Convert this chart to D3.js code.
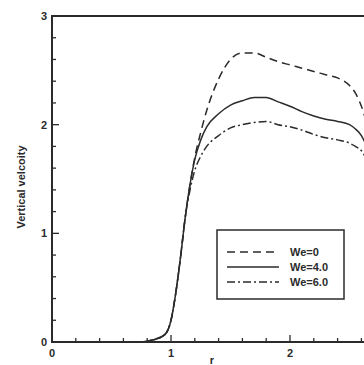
<!DOCTYPE html>
<html>
<head>
<meta charset="utf-8">
<script src="https://cdn.jsdelivr.net/npm/d3@7"></script>
<style>
  html, body { margin: 0; padding: 0; background: #fff; overflow: hidden; }
  svg { display: block; font-family: Arial, "Liberation Sans", sans-serif; }
  .axis-line { stroke: #2b2b2b; stroke-width: 2; fill: none; }
  .tick { stroke: #2b2b2b; stroke-width: 1.3; }
  .tick-label { font-size: 11px; font-weight: bold; fill: #2b2b2b; }
  .curve { fill: none; stroke: #2b2b2b; stroke-width: 1.5; }
</style>
</head>
<body>
<div id="chart"></div>
<script>
// ========== Data ==========
const radius = [0, 0.75, 0.85, 0.95, 1.0, 1.04, 1.08, 1.12, 1.16, 1.2, 1.25, 1.3, 1.4, 1.5,
  1.6, 1.7, 1.8, 1.9, 2.0, 2.1, 2.2, 2.3, 2.4, 2.5, 2.55, 2.6, 2.65, 2.7];

const we0 = [0, 0, 0.02, 0.07, 0.2, 0.45, 0.78, 1.15, 1.45, 1.7, 1.93, 2.13, 2.42, 2.6,
  2.66, 2.66, 2.62, 2.58, 2.55, 2.52, 2.49, 2.46, 2.43, 2.36, 2.29, 2.17, 2.0, 1.85];

const we4 = [0, 0, 0.02, 0.07, 0.2, 0.45, 0.78, 1.15, 1.45, 1.68, 1.86, 1.98, 2.1, 2.18,
  2.22, 2.25, 2.25, 2.21, 2.17, 2.12, 2.08, 2.05, 2.03, 2.0, 1.96, 1.9, 1.78, 1.6];

const we6 = [0, 0, 0.02, 0.07, 0.2, 0.45, 0.78, 1.15, 1.4, 1.58, 1.71, 1.8, 1.9, 1.97,
  2.0, 2.02, 2.03, 2.0, 1.98, 1.95, 1.91, 1.88, 1.86, 1.83, 1.8, 1.76, 1.66, 1.5];

const seriesNames = ['We=0', 'We=4.0', 'We=6.0'];
const xTickLabels = [0, 1, 2];
const yTickLabels = [0, 1, 2, 3];


// ========== Config ==========
const config = {
  width: 364,
  height: 365,
  plot: { left: 52, top: 16, bottom: 342, unitX: 119 },
  dashes: ['8,5', null, '8,3,2,3'],
  legend: { x: 217, y: 230, w: 127, h: 69 }
};

const svg = d3.select('#chart')
  .append('svg')
  .attr('width', config.width)
  .attr('height', config.height);


// ========== Scales ==========
const x = d3.scaleLinear()
  .domain([0, 3])
  .range([config.plot.left, config.plot.left + 3 * config.plot.unitX]);

const y = d3.scaleLinear()
  .domain([0, 3])
  .range([config.plot.bottom, config.plot.top]);


// ========== Frame ==========
svg.append('rect')
  .attr('class', 'axis-line')
  .attr('x', x(0))
  .attr('y', y(3))
  .attr('width', x(3) - x(0))
  .attr('height', y(0) - y(3));

// Minor / major ticks, pointing inward
const xTicks = d3.range(0, 15).map(i => i * 0.2);
svg.append('g').selectAll('line')
  .data(xTicks)
  .join('line')
    .attr('class', 'tick')
    .attr('x1', d => x(d))
    .attr('x2', d => x(d))
    .attr('y1', y(0))
    .attr('y2', (d, i) => y(0) - (i % 5 === 0 ? 7 : 4));

const yTicks = d3.range(0, 15).map(i => i * 0.2);
svg.append('g').selectAll('line')
  .data(yTicks)
  .join('line')
    .attr('class', 'tick')
    .attr('x1', x(0))
    .attr('x2', (d, i) => x(0) + (i % 5 === 0 ? 7 : 4))
    .attr('y1', d => y(d))
    .attr('y2', d => y(d));

// Tick labels
svg.append('g').selectAll('text')
  .data(xTickLabels)
  .join('text')
    .attr('class', 'tick-label')
    .attr('x', d => x(d))
    .attr('y', y(0) + 15)
    .attr('text-anchor', 'middle')
    .text(d => d);

svg.append('g').selectAll('text')
  .data(yTickLabels)
  .join('text')
    .attr('class', 'tick-label')
    .attr('x', x(0) - 5)
    .attr('y', d => y(d) + 4)
    .attr('text-anchor', 'end')
    .text(d => d);

// Axis titles
svg.append('text')
  .attr('class', 'tick-label')
  .attr('transform', `translate(25, ${(y(0) + y(3)) / 2 + 8}) rotate(-90)`)
  .attr('text-anchor', 'middle')
  .text('Vertical velcoity');

svg.append('text')
  .attr('class', 'tick-label')
  .attr('x', 212)
  .attr('y', 364)
  .attr('text-anchor', 'middle')
  .text('r');


// ========== Curves ==========
const line = d3.line()
  .x(d => x(d[0]))
  .y(d => y(d[1]))
  .curve(d3.curveMonotoneX);

[we0, we4, we6].forEach((values, i) => {
  svg.append('path')
    .attr('class', 'curve')
    .attr('stroke-dasharray', config.dashes[i])
    .attr('d', line(radius.map((r, j) => [r, values[j]])));
});


// ========== Legend ==========
const legend = svg.append('g')
  .attr('transform', `translate(${config.legend.x}, ${config.legend.y})`);

legend.append('rect')
  .attr('width', config.legend.w)
  .attr('height', config.legend.h)
  .attr('fill', '#fff')
  .attr('stroke', '#2b2b2b')
  .attr('stroke-width', 1.5);

const rows = legend.selectAll('g.row')
  .data(seriesNames)
  .join('g')
    .attr('class', 'row')
    .attr('transform', (d, i) => `translate(0, ${22 + i * 15})`);

rows.append('line')
  .attr('class', 'curve')
  .attr('x1', 10)
  .attr('x2', 62)
  .attr('stroke-dasharray', (d, i) => config.dashes[i]);

rows.append('text')
  .attr('class', 'tick-label')
  .attr('x', 73)
  .attr('y', 4)
  .text(d => d);
</script>
</body>
</html>
